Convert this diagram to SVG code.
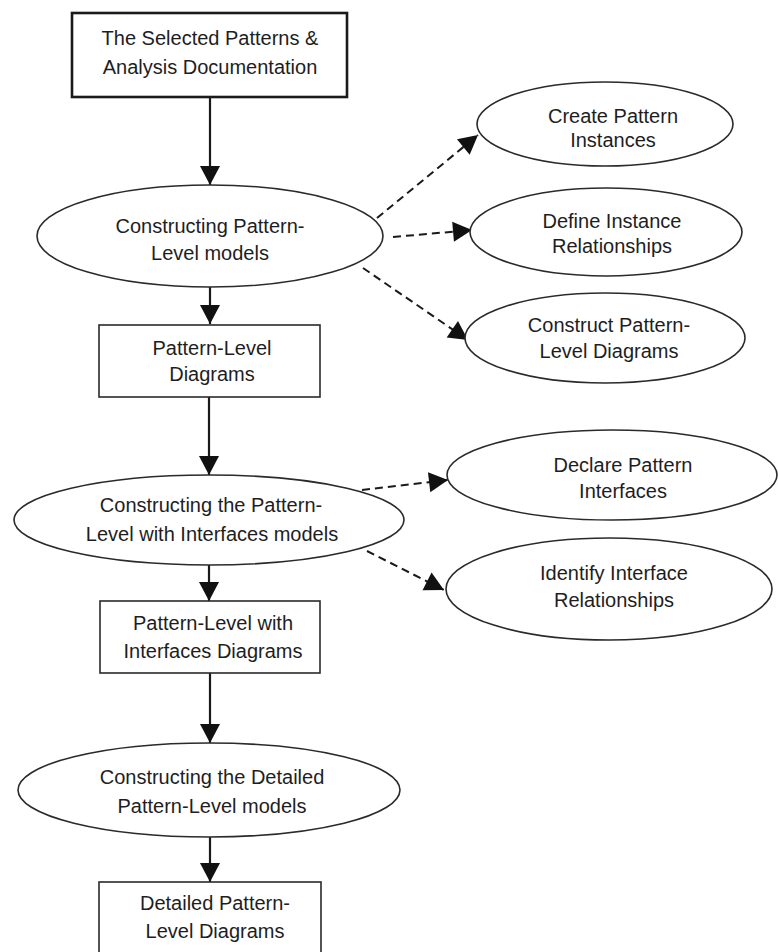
<svg xmlns="http://www.w3.org/2000/svg" width="778" height="952" viewBox="0 0 778 952">
  <defs>
    <style>
      .box { fill: #ffffff; stroke: #2a2a2a; stroke-width: 1.6; }
      .box-main { fill: #ffffff; stroke: #1a1a1a; stroke-width: 2.6; }
      .oval { fill: #ffffff; stroke: #2a2a2a; stroke-width: 1.6; }
      .lbl { font-family: "Liberation Sans", Arial, Helvetica, sans-serif; font-size: 20px; fill: #1e1e1e; text-anchor: middle; }
      .flow { fill: none; stroke: #1a1a1a; stroke-width: 2.2; }
      .dash { fill: none; stroke: #1a1a1a; stroke-width: 2; stroke-dasharray: 8 5; }
    </style>
    <marker id="head" markerUnits="userSpaceOnUse" markerWidth="22" markerHeight="22" viewBox="0 0 22 22" refX="20" refY="11" orient="auto">
      <path d="M1,1 L20,11 L1,21 Z" fill="#111111"/>
    </marker>
  </defs>

  <rect width="778" height="952" fill="#ffffff"/>

  <!-- connectors -->
  <g id="connectors">
    <line class="flow" x1="210" y1="97" x2="210" y2="185" marker-end="url(#head)"/>
    <line class="flow" x1="210" y1="287" x2="210" y2="324" marker-end="url(#head)"/>
    <line class="flow" x1="209" y1="397" x2="209" y2="475" marker-end="url(#head)"/>
    <line class="flow" x1="209" y1="565" x2="209" y2="601" marker-end="url(#head)"/>
    <line class="flow" x1="210" y1="673" x2="210" y2="743" marker-end="url(#head)"/>
    <line class="flow" x1="210" y1="837" x2="210" y2="882" marker-end="url(#head)"/>

    <line class="dash" x1="377" y1="218" x2="478" y2="135" marker-end="url(#head)"/>
    <line class="dash" x1="393" y1="237" x2="472" y2="230" marker-end="url(#head)"/>
    <line class="dash" x1="363" y1="268" x2="468" y2="340" marker-end="url(#head)"/>
    <line class="dash" x1="362" y1="490" x2="448" y2="480" marker-end="url(#head)"/>
    <line class="dash" x1="367" y1="551" x2="444" y2="590" marker-end="url(#head)"/>
  </g>

  <!-- main column -->
  <g id="selected-patterns">
    <rect class="box-main" x="72" y="13" width="275" height="84"/>
    <text class="lbl" x="210" y="45">The Selected Patterns &amp;</text>
    <text class="lbl" x="210" y="74">Analysis Documentation</text>
  </g>

  <g id="construct-pl-models">
    <ellipse class="oval" cx="210" cy="236" rx="173" ry="51"/>
    <text class="lbl" x="210" y="233">Constructing Pattern-</text>
    <text class="lbl" x="210" y="260">Level models</text>
  </g>

  <g id="pl-diagrams">
    <rect class="box" x="99" y="325" width="221" height="72"/>
    <text class="lbl" x="212" y="355">Pattern-Level</text>
    <text class="lbl" x="212" y="381">Diagrams</text>
  </g>

  <g id="construct-pli-models">
    <ellipse class="oval" cx="209" cy="520" rx="195" ry="45"/>
    <text class="lbl" x="211" y="512">Constructing the Pattern-</text>
    <text class="lbl" x="212" y="541">Level with Interfaces models</text>
  </g>

  <g id="pli-diagrams">
    <rect class="box" x="100" y="601" width="220" height="72"/>
    <text class="lbl" x="213" y="630">Pattern-Level with</text>
    <text class="lbl" x="213" y="658">Interfaces Diagrams</text>
  </g>

  <g id="construct-detailed-models">
    <ellipse class="oval" cx="209" cy="790" rx="191" ry="47"/>
    <text class="lbl" x="212" y="784">Constructing the Detailed</text>
    <text class="lbl" x="212" y="813">Pattern-Level models</text>
  </g>

  <g id="detailed-diagrams">
    <rect class="box" x="99" y="882" width="222" height="90"/>
    <text class="lbl" x="215" y="910">Detailed Pattern-</text>
    <text class="lbl" x="215" y="938">Level Diagrams</text>
  </g>

  <!-- activities -->
  <g id="create-instances">
    <ellipse class="oval" cx="605" cy="124" rx="128" ry="42"/>
    <text class="lbl" x="613" y="123">Create Pattern</text>
    <text class="lbl" x="613" y="147">Instances</text>
  </g>

  <g id="define-relationships">
    <ellipse class="oval" cx="606" cy="232" rx="136" ry="44"/>
    <text class="lbl" x="612" y="228">Define Instance</text>
    <text class="lbl" x="612" y="253">Relationships</text>
  </g>

  <g id="construct-pl-diagrams">
    <ellipse class="oval" cx="605" cy="338" rx="140" ry="45"/>
    <text class="lbl" x="609" y="332">Construct Pattern-</text>
    <text class="lbl" x="609" y="358">Level Diagrams</text>
  </g>

  <g id="declare-interfaces">
    <ellipse class="oval" cx="612" cy="475" rx="165" ry="45"/>
    <text class="lbl" x="623" y="472">Declare Pattern</text>
    <text class="lbl" x="623" y="498">Interfaces</text>
  </g>

  <g id="identify-relationships">
    <ellipse class="oval" cx="609" cy="589" rx="163" ry="51"/>
    <text class="lbl" x="614" y="580">Identify Interface</text>
    <text class="lbl" x="614" y="607">Relationships</text>
  </g>
</svg>
